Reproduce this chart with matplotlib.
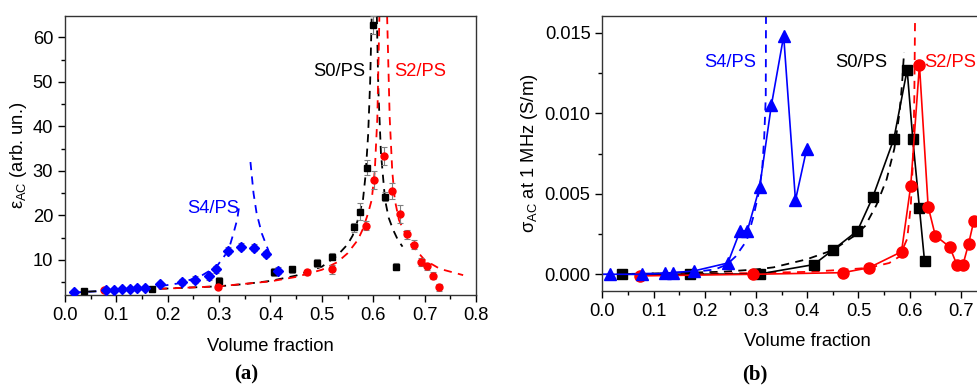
import numpy as np
import matplotlib
matplotlib.use("Agg")
from matplotlib import pyplot as plt
from matplotlib.ticker import MultipleLocator, FormatStrFormatter

plt.rcParams['font.family'] = ['Liberation Sans', 'DejaVu Sans']

# ---- panel (a): permittivity ----
s4_x = [0.0175, 0.08, 0.096, 0.111, 0.127, 0.141, 0.156, 0.184, 0.227, 0.254, 0.280, 0.293, 0.318, 0.343, 0.368, 0.391, 0.414]
s4_y = [2.74, 3.26, 3.3, 3.4, 3.5, 3.6, 3.8, 4.6, 5.0, 5.6, 6.3, 7.9, 12.1, 13.0, 12.8, 11.3, 7.6]
s4_err = [0.3, 0.3, 0.3, 0.3, 0.3, 0.4, 0.4, 0.5, 0.7, 0.7, 0.8, 0.8, 0.8, 0.8, 0.8, 0.7, 0.8]

s0_x = [0.038, 0.169, 0.30, 0.406, 0.442, 0.491, 0.520, 0.562, 0.575, 0.587, 0.600, 0.622, 0.644]
s0_y = [3.04, 3.56, 5.3, 7.4, 7.9, 9.25, 10.7, 17.4, 20.8, 30.7, 62.8, 24.2, 8.5]
s0_err = [0.3, 0.3, 0.9, 0.9, 0.8, 0.9, 0.8, 1.0, 1.9, 1.7, 2.0, 1.0, 0.8]

s2_x = [0.075, 0.297, 0.471, 0.520, 0.585, 0.602, 0.621, 0.637, 0.652, 0.666, 0.680, 0.693, 0.705, 0.716, 0.728]
s2_y = [3.2, 4.0, 7.2, 7.9, 17.7, 28.0, 33.4, 25.4, 20.4, 15.8, 13.4, 9.6, 8.6, 6.5, 3.9]
s2_err = [0.3, 0.5, 0.6, 1.0, 1.0, 2.0, 2.0, 1.8, 2.0, 1.0, 1.0, 0.9, 0.8, 0.8, 0.8]

# fit curves
s4_fit_lo_x = [0.0175, 0.068, 0.133, 0.178, 0.224, 0.263, 0.295, 0.318, 0.328, 0.335, 0.339]
s4_fit_lo_y = [2.7, 3.0, 3.4, 4.0, 4.8, 6.3, 8.5, 12.1, 16.0, 19.0, 22.0]
s4_fit_hi_x = [0.361, 0.367, 0.373, 0.383, 0.393, 0.402]
s4_fit_hi_y = [32.0, 25.0, 20.5, 16.0, 13.0, 10.4]

s0_fit_lo_x = [0.045, 0.1, 0.2, 0.3, 0.35, 0.4, 0.45, 0.5, 0.53, 0.55, 0.56, 0.57, 0.58, 0.585, 0.59, 0.594, 0.597]
s0_fit_lo_y = [2.9, 3.2, 3.6, 4.1, 4.6, 5.3, 6.5, 8.5, 11.0, 13.5, 15.5, 19.0, 23.5, 29.0, 38.0, 50.0, 64.8]
s0_fit_hi_x = [0.607, 0.61, 0.615, 0.623, 0.63, 0.639, 0.648, 0.657]
s0_fit_hi_y = [64.8, 48.0, 34.0, 23.5, 19.5, 16.7, 14.5, 13.0]

s2_fit_lo_x = [0.07, 0.1, 0.2, 0.3, 0.4, 0.45, 0.5, 0.53, 0.55, 0.57, 0.58, 0.59, 0.597, 0.603, 0.608, 0.612]
s2_fit_lo_y = [3.3, 3.3, 3.6, 4.1, 5.2, 6.2, 7.8, 9.5, 11.5, 14.5, 17.0, 20.5, 23.5, 30.0, 42.0, 64.8]
s2_fit_hi_x = [0.627, 0.632, 0.637, 0.642, 0.65, 0.67, 0.7, 0.73, 0.775]
s2_fit_hi_y = [64.8, 42.0, 30.0, 23.5, 19.0, 14.0, 10.0, 8.0, 6.6]

# ---- panel (b): conductivity ----
b_s4_x = [0.0156, 0.077, 0.123, 0.137, 0.178, 0.245, 0.269, 0.283, 0.307, 0.330, 0.354, 0.377, 0.399]
b_s4_y = [0.0, 0.0, 0.00006, 0.0001, 0.0002, 0.0007, 0.0027, 0.0027, 0.0054, 0.0105, 0.0148, 0.0046, 0.0078]
b_s0_x = [0.038, 0.172, 0.307, 0.4125, 0.4496, 0.498, 0.528, 0.569, 0.595, 0.606, 0.619, 0.629]
b_s0_y = [0.0, 0.0, 0.00002, 0.0006, 0.0015, 0.0027, 0.0048, 0.0084, 0.0127, 0.0084, 0.0041, 0.0008]
b_s2_x = [0.074, 0.295, 0.469, 0.520, 0.584, 0.602, 0.619, 0.636, 0.650, 0.678, 0.692, 0.704, 0.715, 0.725]
b_s2_y = [-0.0001, 0.0, 0.0001, 0.0004, 0.0014, 0.0055, 0.0130, 0.0042, 0.0024, 0.0017, 0.0006, 0.0006, 0.0019, 0.0033]

b_s4_fit_x = [0.0, 0.1, 0.18, 0.22, 0.243, 0.26, 0.282, 0.295, 0.305, 0.312, 0.316, 0.319, 0.3195]
b_s4_fit_y = [0.0, 0.00005, 0.00015, 0.0003, 0.0006, 0.0011, 0.0021, 0.0036, 0.0050, 0.0065, 0.0085, 0.011, 0.0162]
b_s0_fit_x = [0.04, 0.1, 0.17, 0.236, 0.3, 0.334, 0.399, 0.45, 0.4925, 0.513, 0.535, 0.555, 0.57, 0.58, 0.585, 0.589]
b_s0_fit_y = [0.0, 0.00005, 0.0001, 0.00016, 0.0003, 0.00043, 0.00093, 0.0015, 0.0024, 0.0030, 0.0043, 0.0059, 0.0078, 0.0100, 0.0118, 0.0138]
b_s2_fit_x = [0.07, 0.2, 0.3, 0.4, 0.464, 0.52, 0.56, 0.58, 0.595, 0.602, 0.607, 0.609, 0.6105]
b_s2_fit_y = [0.0, 0.00003, 0.00008, 0.00015, 0.00027, 0.0004, 0.0007, 0.0011, 0.0022, 0.0042, 0.0075, 0.011, 0.0162]

b_xticks = [0.0, 0.1, 0.2, 0.3, 0.4, 0.5, 0.6, 0.7]

BLUE = '#0000ff'
RED = '#ff0000'
BLACK = '#000000'
ERRC = '#808080'
dash = (0, (4.5, 3.5))
FS = 13.2

fig = plt.figure(figsize=(9.77, 3.9), dpi=100)
ax1 = fig.add_axes([0.0665, 0.2436, 0.4207, 0.7154])
ax2 = fig.add_axes([0.6165, 0.2546, 0.4195, 0.7052])

# panel (a)
ax1.plot(s4_fit_lo_x, s4_fit_lo_y, color=BLUE, ls=dash, lw=1.3)
ax1.plot(s4_fit_hi_x, s4_fit_hi_y, color=BLUE, ls=dash, lw=1.3)
ax1.plot(s0_fit_lo_x, s0_fit_lo_y, color=BLACK, ls=dash, lw=1.3)
ax1.plot(s0_fit_hi_x, s0_fit_hi_y, color=BLACK, ls=dash, lw=1.3)
ax1.plot(s2_fit_lo_x, s2_fit_lo_y, color=RED, ls=dash, lw=1.3)
ax1.plot(s2_fit_hi_x, s2_fit_hi_y, color=RED, ls=dash, lw=1.3)

ax1.errorbar(s0_x, s0_y, yerr=s0_err, fmt='s', color=BLACK, ms=4.5, ecolor=ERRC, elinewidth=0.8, capsize=2.5, capthick=0.8, zorder=3)
ax1.errorbar(s2_x, s2_y, yerr=s2_err, fmt='o', color=RED, ms=5, ecolor=ERRC, elinewidth=0.8, capsize=2.5, capthick=0.8, zorder=3)
ax1.errorbar(s4_x, s4_y, yerr=s4_err, fmt='D', color=BLUE, ms=5, ecolor=ERRC, elinewidth=0.8, capsize=2.5, capthick=0.8, zorder=3)

ax1.text(0.289, 21.6, 'S4/PS', color=BLUE, fontsize=FS, ha='center', va='center')
ax1.text(0.534, 52.3, 'S0/PS', color=BLACK, fontsize=FS, ha='center', va='center')
ax1.text(0.691, 52.3, 'S2/PS', color=RED, fontsize=FS, ha='center', va='center')

ax1.set_xlim(0, 0.8)
ax1.set_ylim(2.14, 64.8)
ax1.xaxis.set_major_locator(MultipleLocator(0.1))
ax1.xaxis.set_minor_locator(MultipleLocator(0.05))
ax1.yaxis.set_minor_locator(MultipleLocator(5))
ax1.set_yticks([10, 20, 30, 40, 50, 60])
ax1.set_xlabel('Volume fraction', fontsize=FS, labelpad=10)
ax1.set_ylabel(r'$\mathregular{\varepsilon_{AC}}$ (arb. un.)', fontsize=FS, labelpad=3)

# panel (b)
ax2.plot(b_s4_fit_x, b_s4_fit_y, color=BLUE, ls=dash, lw=1.3)
ax2.plot(b_s0_fit_x, b_s0_fit_y, color=BLACK, ls=dash, lw=1.3)
ax2.plot(b_s2_fit_x, b_s2_fit_y, color=RED, ls=dash, lw=1.3)
ax2.plot(b_s0_x, b_s0_y, '-s', color=BLACK, ms=7, lw=1.2, zorder=3)
ax2.plot(b_s2_x, b_s2_y, '-o', color=RED, ms=8, lw=1.2, zorder=3)
ax2.plot(b_s4_x, b_s4_y, '-^', color=BLUE, ms=8, lw=1.2, zorder=3)

ax2.text(0.249, 0.01316, 'S4/PS', color=BLUE, fontsize=FS, ha='center', va='center')
ax2.text(0.5056, 0.01316, 'S0/PS', color=BLACK, fontsize=FS, ha='center', va='center')
ax2.text(0.629, 0.01316, 'S2/PS', color=RED, fontsize=FS, ha='left', va='center')

ax2.set_xlim(0, 0.8)
ax2.set_ylim(-0.00102, 0.01606)
ax2.set_xticks(b_xticks)
ax2.xaxis.set_minor_locator(MultipleLocator(0.05))
ax2.yaxis.set_major_locator(MultipleLocator(0.005))
ax2.yaxis.set_minor_locator(MultipleLocator(0.0025))
ax2.yaxis.set_major_formatter(FormatStrFormatter('%.3f'))
ax2.set_xlabel('Volume fraction', fontsize=FS, labelpad=10)
ax2.set_ylabel(r'$\mathregular{\sigma_{AC}}$ at 1 MHz (S/m)', fontsize=FS, labelpad=3)

for ax in (ax1, ax2):
    ax.tick_params(which='both', direction='out', top=False, right=False, labelsize=FS)
    ax.tick_params(which='major', length=5, width=1)
    ax.tick_params(which='minor', length=3, width=1)
    for sp in ax.spines.values():
        sp.set_linewidth(1.0)
        sp.set_color('#333333')

fig.text(246 / 977, 1 - 374 / 390, '(a)', fontsize=15, fontweight='bold', family='Liberation Serif', ha='center', va='center')
fig.text(755 / 977, 1 - 374 / 390, '(b)', fontsize=15, fontweight='bold', family='Liberation Serif', ha='center', va='center')

fig.savefig('out.png', dpi=100)
